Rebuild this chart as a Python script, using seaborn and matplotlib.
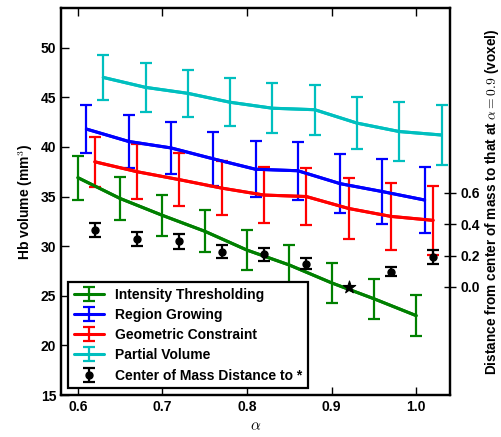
import numpy as np
import matplotlib
matplotlib.use("Agg")
import matplotlib.pyplot as plt
import seaborn as sns

# alpha values (each method is dodged slightly to the right)
alpha = np.array([0.60, 0.65, 0.70, 0.75, 0.80, 0.85, 0.90, 0.95, 1.00])

thresh_mean = [36.9, 34.8, 33.1, 31.5, 29.6, 28.1, 26.3, 24.7, 23.0]
thresh_err = [2.2, 2.2, 2.1, 2.1, 2.05, 2.05, 2.0, 2.0, 2.05]

region_mean = [41.8, 40.55, 39.9, 38.8, 37.75, 37.6, 36.3, 35.5, 34.65]
region_err = [2.45, 2.7, 2.65, 2.75, 2.8, 2.9, 3.0, 3.25, 3.35]

geom_mean = [38.5, 37.5, 36.7, 35.85, 35.15, 35.0, 33.8, 33.0, 32.6]
geom_err = [2.5, 2.75, 2.65, 2.75, 2.85, 2.85, 3.1, 3.35, 3.45]

pv_mean = [47.0, 46.0, 45.4, 44.5, 43.9, 43.75, 42.4, 41.55, 41.2]
pv_err = [2.3, 2.45, 2.35, 2.4, 2.5, 2.5, 2.65, 2.95, 3.05]

# center of mass distance (right axis); alpha = 0.92 is the reference (star)
com_alpha = np.array([0.62, 0.67, 0.72, 0.77, 0.82, 0.87, 0.97, 1.02])
com_dist = [0.364, 0.306, 0.29, 0.225, 0.207, 0.149, 0.098, 0.193]
com_err = [0.045, 0.045, 0.045, 0.04, 0.042, 0.035, 0.03, 0.045]
ref_alpha = [0.92]
ref_dist = [0.0]

sns.set_style("ticks")
plt.rcParams["font.family"] = ["Liberation Sans", "DejaVu Sans"]
plt.rcParams["font.weight"] = "bold"
plt.rcParams["axes.labelweight"] = "bold"
plt.rcParams["mathtext.fontset"] = "cm"
plt.rcParams["font.size"] = 10
for k in ["text.color", "axes.labelcolor", "xtick.color", "ytick.color",
          "axes.edgecolor"]:
    plt.rcParams[k] = "black"

fig = plt.figure(figsize=(5.01, 4.37), dpi=100)
ax = fig.add_axes([0.1218, 0.0961, 0.7764, 0.8856])

series = [
    ("Intensity Thresholding", 0.00, thresh_mean, thresh_err, "#008000"),
    ("Region Growing", 0.01, region_mean, region_err, "#0000ff"),
    ("Geometric Constraint", 0.02, geom_mean, geom_err, "#ff0000"),
    ("Partial Volume", 0.03, pv_mean, pv_err, "#00bfbf"),
]
handles = []
for label, dx, mean, err, color in series:
    sns.lineplot(x=alpha + dx, y=mean, ax=ax, color=color, lw=2.2, legend=False)
    h = ax.errorbar(alpha + dx, mean, yerr=err, fmt="-", color=color, lw=2.2,
                    elinewidth=1.6, capsize=4, capthick=1.6, label=label)
    handles.append(h)

ax.set_xlim(0.58, 1.04)
ax.set_ylim(15, 54)
ax.set_yticks([15, 20, 25, 30, 35, 40, 45, 50])
ax.set_xticks([0.6, 0.7, 0.8, 0.9, 1.0])
ax.set_xlabel(r"$\alpha$", fontsize=11)
ax.set_ylabel(r"Hb volume (mm$^3$)")
ax.tick_params(direction="in", length=6, width=1, top=True, labelsize=10)

ax2 = ax.twinx()
h = ax2.errorbar(com_alpha, com_dist, yerr=com_err, fmt="o", color="black",
                 ms=5, elinewidth=1.6, capsize=4, capthick=1.6,
                 label="Center of Mass Distance to *")
handles.append(h)
sns.scatterplot(x=ref_alpha, y=ref_dist, ax=ax2, marker="*", s=90,
                color="black", edgecolor="black", legend=False, zorder=5)
ax2.set_ylim(-0.69, 1.78)
ax2.set_yticks([0.0, 0.2, 0.4, 0.6])
ax2.set_ylabel(r"Distance from center of mass to that at $\alpha=0.9$ (voxel)",
               fontsize=9.8, labelpad=2)
ax2.tick_params(direction="inout", length=8, width=1, labelsize=10)

for a in (ax, ax2):
    for s in a.spines.values():
        s.set_linewidth(1.6)
        s.set_color("black")

leg = ax2.legend(handles=handles, loc="lower left", fontsize=10,
                 frameon=True, fancybox=False, labelspacing=0.45,
                 handlelength=2.2, borderaxespad=0.5)
leg.get_frame().set_edgecolor("black")
leg.get_frame().set_linewidth(1.6)
leg.get_frame().set_alpha(1)

fig.savefig("out.png", dpi=100)
